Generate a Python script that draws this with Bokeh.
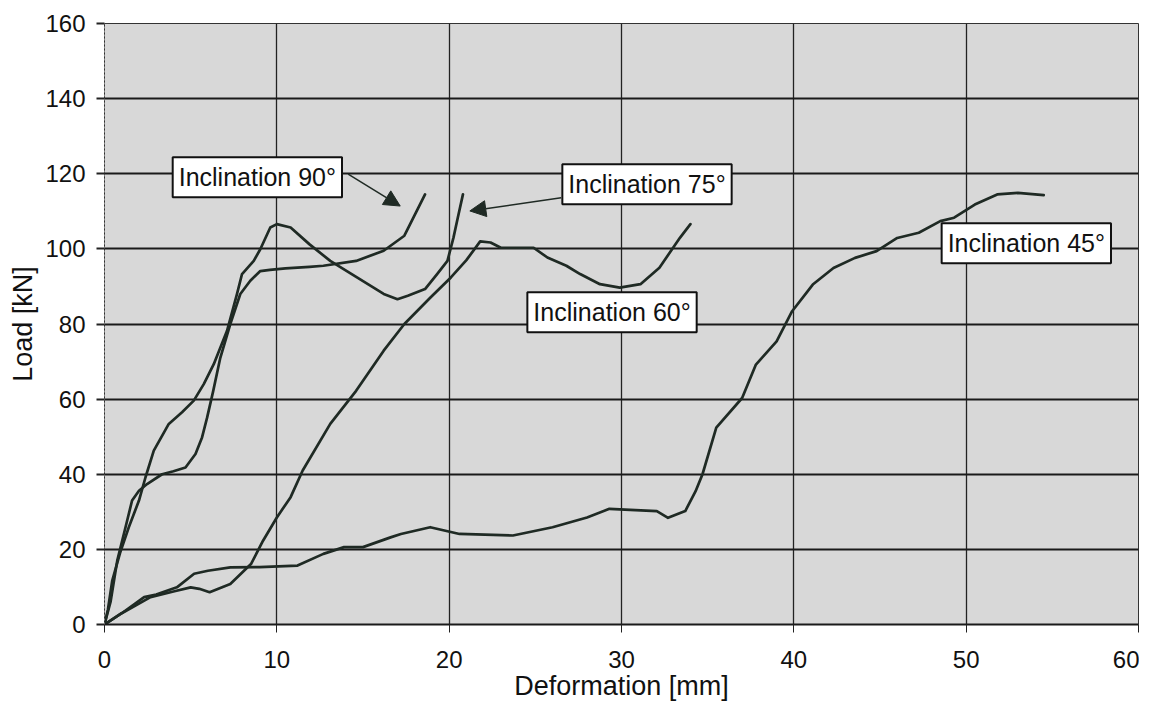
from bokeh.plotting import figure
from bokeh.models import Label, Arrow, NormalHead, FixedTicker, Range1d
from bokeh.embed import file_html
from bokeh.resources import INLINE

# ---- data ----
x_90 = [0, 0.35, 0.74, 1.22, 1.6, 2.0, 2.47, 3.34, 4.0, 4.7, 5.28, 5.66, 5.95, 6.3, 6.72,
        7.3, 7.88, 8.46, 9.04, 9.6, 10.5, 11.9, 12.7, 14.6, 16.2, 17.4, 18.6]
y_90 = [0, 6, 17, 25.9, 33, 35.6, 37.4, 40, 40.8, 41.8, 45.4, 49.8, 55, 62, 71,
        80, 88, 91.5, 94.1, 94.4, 94.8, 95.2, 95.5, 96.8, 99.5, 103.5, 114.5]

x_75 = [0, 0.2, 0.45, 0.9, 1.41, 2.0, 2.38, 2.86, 3.73, 4.5, 5.18, 5.76, 6.34, 7.11, 7.69,
        7.98, 8.66, 9.04, 9.62, 10.0, 10.8, 11.9, 13.1, 14.65, 16.2, 17.0, 17.6, 18.6,
        19.3, 19.9, 20.25, 20.5, 20.8]
y_75 = [0, 4, 11.7, 19, 25.9, 33, 39.2, 46.3, 53.4, 56.5, 59.6, 64, 69.3, 78.2, 88,
        93.3, 96.8, 99.9, 105.7, 106.6, 105.7, 101.2, 96.8, 92.4, 88, 86.6, 87.5, 89.3,
        93.3, 96.8, 103, 108.3, 114.5]

x_60 = [0, 1.0, 2.67, 4.0, 5.0, 5.5, 6.1, 7.3, 8.5, 9.2, 10.0, 10.8, 11.5, 13.1, 14.6,
        16.2, 17.4, 18.9, 20.1, 21.0, 21.8, 22.4, 23.0, 24.9, 25.7, 26.8, 27.6, 28.75,
        29.9, 31.1, 32.2, 33.4, 34.0]
y_60 = [0, 3, 7.3, 8.8, 9.9, 9.5, 8.6, 10.8, 16.1, 22.3, 28.5, 33.9, 41, 53.4, 62.2,
        72.9, 80, 87, 92.4, 97, 102, 101.7, 100.3, 100.3, 97.7, 95.5, 93.3, 90.6,
        89.7, 90.6, 95, 103, 106.6]

x_45 = [0, 1.0, 2.3, 3.0, 4.2, 5.2, 6.0, 7.3, 9.0, 11.2, 12.7, 13.9, 15.0, 16.6, 17.2,
        18.9, 20.6, 23.7, 26.0, 28.0, 29.3, 30.5, 32.05, 32.7, 33.7, 34.3, 34.7, 35.5,
        37.0, 37.8, 39.0, 39.9, 41.1, 42.3, 43.55, 44.8, 46.0, 47.25, 48.5, 49.3, 50.5,
        51.8, 53.0, 54.5]
y_45 = [0, 3, 7.3, 8.0, 9.9, 13.5, 14.3, 15.2, 15.3, 15.7, 18.8, 20.6, 20.6, 23.2, 24.1,
        25.9, 24.1, 23.7, 25.9, 28.5, 30.8, 30.5, 30.2, 28.4, 30.2, 35.5, 40, 52.4,
        60.3, 69.2, 75.4, 83.4, 90.5, 94.9, 97.6, 99.4, 102.9, 104.3, 107.4, 108.3, 111.8,
        114.5, 114.9, 114.3]

x_ticks = [0, 10, 20, 30, 40, 50, 60]
y_ticks = [0, 20, 40, 60, 80, 100, 120, 140, 160]

label_texts = ["Inclination 90°", "Inclination 75°", "Inclination 60°", "Inclination 45°"]
label_x = [8.87, 31.48, 29.45, 53.49]
label_y = [119.1, 117.2, 83.1, 101.5]

# arrows: (x_start, y_start, x_end, y_end)
arrows = [(14.14, 119.9, 17.16, 111.4), (26.5, 113.6, 21.2, 110.1)]

LINE = "#1f2a24"
FONT = "Liberation Sans"

p = figure(width=1139, height=711, output_backend="svg", toolbar_location=None,
           x_range=Range1d(0, 60), y_range=Range1d(0, 160),
           min_border_left=104, min_border_right=1, min_border_top=23, min_border_bottom=87)

p.background_fill_color = "#d8d8d8"
p.border_fill_color = "white"
p.outline_line_color = "#333333"
p.outline_line_width = 1

p.xaxis.ticker = FixedTicker(ticks=x_ticks)
p.yaxis.ticker = FixedTicker(ticks=y_ticks)
p.xaxis.minor_tick_line_color = None
p.yaxis.minor_tick_line_color = None

for ax in (p.xaxis, p.yaxis):
    ax.major_label_text_font = FONT
    ax.major_label_text_font_size = "24px"
    ax.major_label_text_color = "#111111"
    ax.axis_label_text_font = FONT
    ax.axis_label_text_font_size = "27px"
    ax.axis_label_text_font_style = "normal"
    ax.axis_label_text_color = "#111111"
    ax.major_tick_out = 8
    ax.major_tick_in = 0
    ax.major_tick_line_color = "#222222"

p.xaxis.axis_label = "Deformation [mm]"
p.yaxis.axis_label = "Load [kN]"
p.xaxis.axis_line_color = "#1a1a1a"
p.xaxis.axis_line_width = 2
p.xaxis.major_tick_line_width = 1
p.xaxis.major_label_standoff = 18
p.xaxis.axis_label_standoff = 0
p.yaxis.axis_line_color = "#888888"
p.yaxis.axis_line_width = 1
p.yaxis.axis_line_dash = "2 2"
p.yaxis.major_tick_line_width = 2
p.yaxis.major_label_standoff = 11
p.yaxis.axis_label_standoff = 4

p.xgrid.grid_line_color = "#222222"
p.xgrid.grid_line_width = 1.3
p.ygrid.grid_line_color = "#1a1a1a"
p.ygrid.grid_line_width = 2

for xs, ys in ((x_90, y_90), (x_75, y_75), (x_60, y_60), (x_45, y_45)):
    p.line(xs, ys, line_color=LINE, line_width=2.7, line_join="round", line_cap="round")

for xs, ys, xe, ye in arrows:
    p.add_layout(Arrow(end=NormalHead(size=16, fill_color=LINE, line_color=LINE),
                       x_start=xs, y_start=ys, x_end=xe, y_end=ye,
                       line_color=LINE, line_width=1.5))

for t, lx, ly in zip(label_texts, label_x, label_y):
    p.add_layout(Label(x=lx, y=ly, text=t, text_align="center", text_baseline="middle",
                       text_font=FONT, text_font_size="25px", text_color="#111111",
                       background_fill_color="white", border_line_color="#111111",
                       border_line_width=2, padding=6))

open("out.html", "w").write(file_html(p, INLINE))
